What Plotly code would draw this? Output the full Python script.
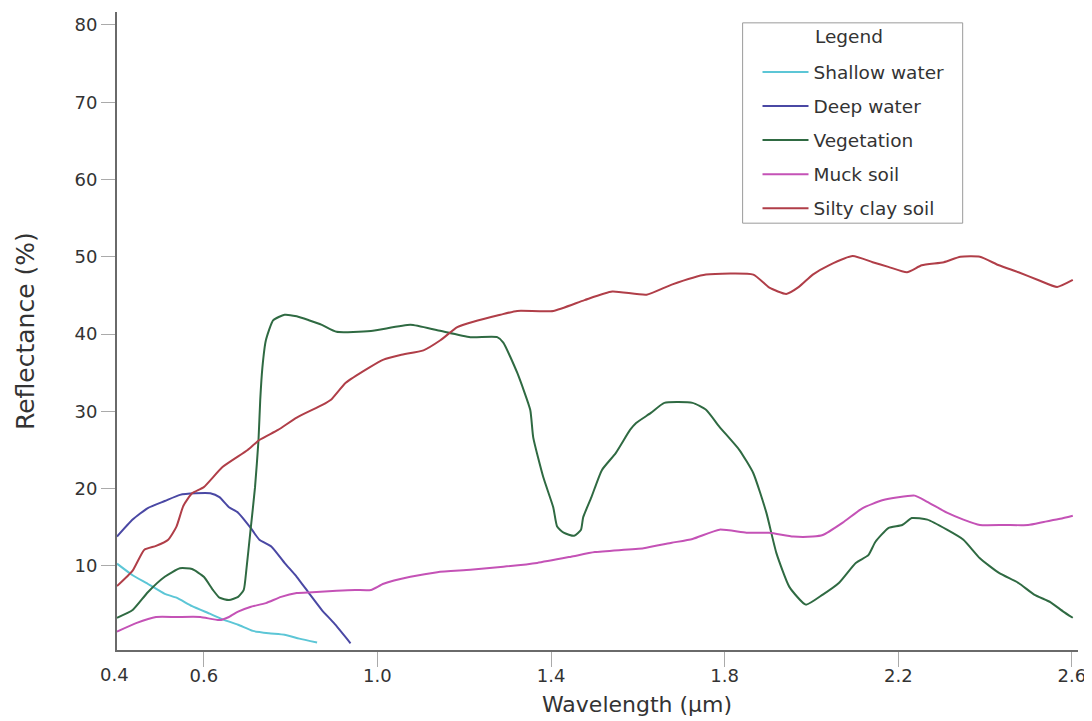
import plotly.graph_objects as go

# Wavelength (µm) and reflectance (%)
shallow_x = [0.400, 0.436, 0.471, 0.510, 0.537, 0.573, 0.615, 0.643, 0.679, 0.713, 0.750, 0.786, 0.820, 0.861]
shallow_y = [10.3, 8.8, 7.7, 6.4, 5.9, 4.8, 3.8, 3.1, 2.4, 1.6, 1.3, 1.1, 0.6, 0.1]

deep_x = [0.400, 0.436, 0.471, 0.510, 0.545, 0.581, 0.615, 0.636, 0.658, 0.679, 0.707, 0.728,
          0.756, 0.786, 0.814, 0.842, 0.872, 0.900, 0.938]
deep_y = [13.8, 16.0, 17.5, 18.4, 19.2, 19.4, 19.4, 18.9, 17.6, 16.9, 15.0, 13.4,
          12.5, 10.4, 8.6, 6.5, 4.3, 2.6, 0.0]

veg_x = [0.400, 0.436, 0.471, 0.510, 0.545, 0.573, 0.600, 0.621, 0.636, 0.658, 0.679, 0.692,
         0.698, 0.707, 0.718, 0.726, 0.730, 0.735, 0.743, 0.760, 0.786, 0.814, 0.842, 0.872,
         0.906, 0.985, 1.076, 1.138, 1.214, 1.276, 1.290, 1.322, 1.352, 1.359, 1.382, 1.405,
         1.414, 1.429, 1.453, 1.469, 1.474, 1.493, 1.517, 1.549, 1.582, 1.596, 1.630, 1.661,
         1.726, 1.757, 1.788, 1.834, 1.866, 1.896, 1.919, 1.949, 1.987, 2.026, 2.063, 2.102,
         2.131, 2.147, 2.177, 2.209, 2.231, 2.267, 2.312, 2.350, 2.388, 2.432, 2.477, 2.513,
         2.551, 2.580, 2.602]
veg_y = [3.3, 4.3, 6.6, 8.6, 9.7, 9.6, 8.6, 6.9, 5.9, 5.6, 6.0, 6.9,
         9.5, 14.3, 20.2, 26.3, 31.5, 35.7, 39.2, 41.8, 42.5, 42.3, 41.8, 41.2,
         40.3, 40.4, 41.2, 40.5, 39.6, 39.6, 38.9, 35.0, 30.2, 26.6, 21.5, 17.6,
         15.1, 14.3, 13.9, 14.7, 16.3, 18.9, 22.4, 24.6, 27.6, 28.5, 29.8, 31.1,
         31.1, 30.2, 28.0, 25.0, 22.0, 16.9, 11.7, 7.3, 5.0, 6.3, 7.8, 10.4,
         11.4, 13.1, 14.9, 15.3, 16.2, 16.0, 14.7, 13.4, 11.0, 9.1, 7.8, 6.3,
         5.3, 4.1, 3.3]

muck_x = [0.400, 0.444, 0.490, 0.537, 0.592, 0.636, 0.658, 0.679, 0.707, 0.743, 0.778, 0.814,
          0.850, 0.906, 0.949, 0.985, 1.014, 1.076, 1.138, 1.214, 1.290, 1.368, 1.446, 1.501,
          1.613, 1.678, 1.726, 1.788, 1.850, 1.903, 1.958, 2.003, 2.026, 2.072, 2.118, 2.163,
          2.200, 2.238, 2.267, 2.312, 2.350, 2.388, 2.446, 2.499, 2.535, 2.573, 2.602]
muck_y = [1.5, 2.6, 3.4, 3.4, 3.4, 3.0, 3.4, 4.1, 4.7, 5.2, 6.0, 6.5,
          6.6, 6.8, 6.9, 6.9, 7.7, 8.6, 9.2, 9.5, 9.9, 10.4, 11.2, 11.8,
          12.3, 13.0, 13.5, 14.7, 14.3, 14.3, 13.8, 13.8, 14.0, 15.6, 17.5, 18.5,
          18.9, 19.1, 18.3, 16.9, 16.0, 15.3, 15.3, 15.3, 15.7, 16.1, 16.5]

clay_x = [0.400, 0.436, 0.463, 0.490, 0.518, 0.537, 0.553, 0.573, 0.600, 0.643, 0.701, 0.728,
          0.771, 0.814, 0.872, 0.893, 0.927, 0.979, 1.014, 1.053, 1.106, 1.145, 1.184, 1.221,
          1.283, 1.322, 1.405, 1.477, 1.541, 1.620, 1.678, 1.757, 1.866, 1.903, 1.942, 1.971,
          2.003, 2.040, 2.095, 2.141, 2.177, 2.220, 2.254, 2.305, 2.343, 2.388, 2.432, 2.477,
          2.522, 2.566, 2.602]
clay_y = [7.4, 9.4, 12.1, 12.6, 13.4, 15.1, 17.8, 19.4, 20.2, 22.8, 25.0, 26.3,
          27.6, 29.2, 30.8, 31.5, 33.7, 35.6, 36.7, 37.3, 37.9, 39.2, 40.9, 41.6,
          42.5, 43.0, 43.0, 44.4, 45.5, 45.1, 46.4, 47.7, 47.7, 46.0, 45.2, 46.1,
          47.7, 48.9, 50.1, 49.3, 48.7, 48.0, 48.9, 49.3, 50.0, 50.0, 48.9, 48.0,
          47.0, 46.1, 47.0]

series_names = ["Shallow water", "Deep water", "Vegetation", "Muck soil", "Silty clay soil"]
series_colors = ["#5cc6d6", "#4a48a4", "#2f6a42", "#c452b6", "#b03e48"]

x_tick_vals = [0.6, 1.0, 1.4, 1.8, 2.2, 2.6]
x_tick_text = ["0.6", "1.0", "1.4", "1.8", "2.2", "2.6"]
y_tick_vals = [10, 20, 30, 40, 50, 60, 70, 80]

FONT = "DejaVu Sans, Verdana, sans-serif"
TXT = "#333333"

fig = go.Figure()
data = [(shallow_x, shallow_y), (deep_x, deep_y), (veg_x, veg_y), (muck_x, muck_y), (clay_x, clay_y)]
for (xs, ys), name, color in zip(data, series_names, series_colors):
    fig.add_trace(go.Scatter(
        x=xs, y=ys, mode="lines", name=name, legendgroup=name,
        line=dict(color=color, width=2, shape="spline", smoothing=0.5),
    ))

fig.update_layout(
    width=1084, height=713,
    margin=dict(l=109, r=14, t=4, b=71),
    paper_bgcolor="white", plot_bgcolor="white",
    font=dict(family=FONT, color=TXT),
    showlegend=True,
    legend=dict(
        x=0.6665, y=0.935, xanchor="left", yanchor="top",
        bgcolor="rgba(0,0,0,0)", borderwidth=0,
        font=dict(family=FONT, size=18.5, color=TXT),
        itemwidth=46, tracegroupgap=7,
    ),
    xaxis=dict(
        range=[0.4, 2.614], showgrid=False, zeroline=False,
        showline=True, linecolor="#6a6a6a", linewidth=2,
        ticks="outside", ticklen=15, tickwidth=1, tickcolor="#aaaaaa",
        ticklabelstandoff=-7, ticklabeloverflow="allow",
        tickvals=x_tick_vals, ticktext=x_tick_text,
        tickfont=dict(family=FONT, size=18, color=TXT),
    ),
    yaxis=dict(
        range=[-0.87, 81.67], showgrid=False, zeroline=False,
        showline=True, linecolor="#6a6a6a", linewidth=2,
        ticks="outside", ticklen=14, tickwidth=1, tickcolor="#aaaaaa",
        tickvals=y_tick_vals,
        tickfont=dict(family=FONT, size=18, color=TXT),
    ),
    shapes=[dict(type="rect", xref="paper", yref="paper",
                 x0=0.651, x1=0.880, y0=0.669, y1=0.983,
                 line=dict(color="#9a9a9a", width=1))],
    annotations=[
        dict(text="Legend", xref="paper", yref="paper", x=0.724, y=0.962,
             xanchor="left", yanchor="middle", showarrow=False,
             font=dict(family=FONT, size=18.5, color=TXT)),
        dict(text="0.4", xref="x", yref="paper", x=0.4, y=-0.039, xshift=-3,
             xanchor="center", yanchor="middle", showarrow=False,
             font=dict(family=FONT, size=18, color=TXT)),
        dict(text="Wavelength (μm)", xref="paper", yref="paper", x=0.541, y=-0.086,
             xanchor="center", yanchor="middle", showarrow=False,
             font=dict(family=FONT, size=22, color=TXT)),
        dict(text="Reflectance (%)", xref="paper", yref="paper", x=-0.0957, y=0.5,
             xanchor="center", yanchor="middle", textangle=-90, showarrow=False,
             font=dict(family=FONT, size=25, color=TXT)),
    ],
)

fig.write_html("out.html")
